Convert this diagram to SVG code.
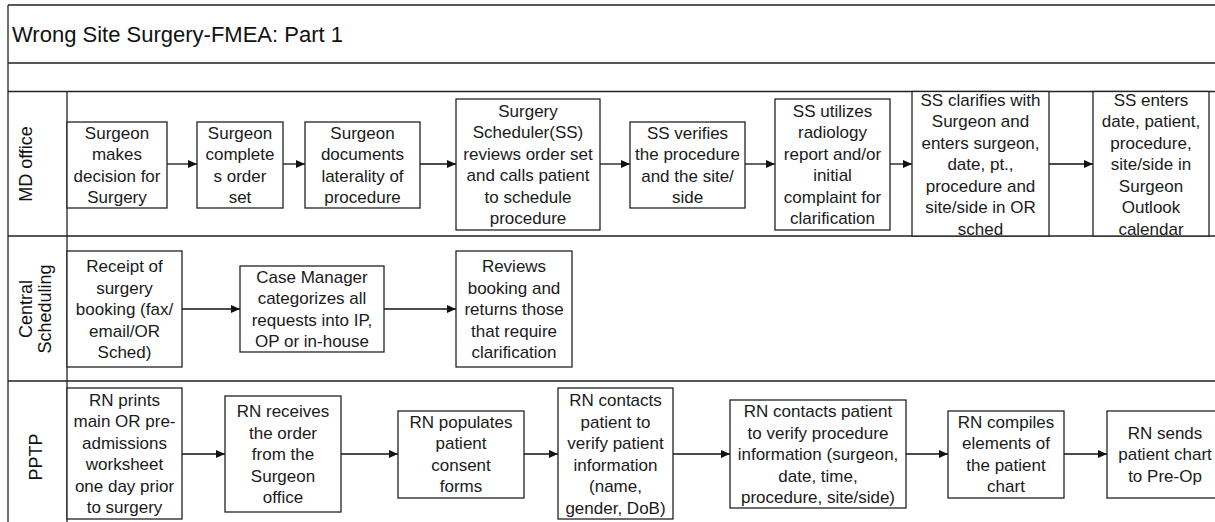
<svg xmlns="http://www.w3.org/2000/svg" width="1215" height="522" viewBox="0 0 1215 522">
  <defs>
    <marker id="ah" markerUnits="userSpaceOnUse" markerWidth="9" markerHeight="8" refX="9" refY="4" orient="auto">
      <path d="M0,0 L9,4 L0,8 z" fill="#111"/>
    </marker>
    <style>
      .frame { stroke: #222; stroke-width: 1.3; fill: none; }
      .box { fill: #fff; stroke: #222; stroke-width: 1.3; }
      .t { font-family: "Liberation Sans", Arial, sans-serif; font-size: 17px; fill: #1a1a1a; text-anchor: middle; }
      .lane { font-family: "Liberation Sans", Arial, sans-serif; font-size: 18px; fill: #111; text-anchor: middle; }
      .title { font-family: "Liberation Sans", Arial, sans-serif; font-size: 22px; fill: #111; }
      .conn { stroke: #111; stroke-width: 1.3; fill: none; marker-end: url(#ah); }
    </style>
  </defs>
  <rect width="1215" height="522" fill="#fff"/>

  <!-- table frame and swimlanes -->
  <g id="frame">
    <path class="frame" d="M8,5 H1215 M8,5 V522 M8,63 H1215 M8,91.5 H1215 M8,236 H1215 M8,381 H1215 M67,91.5 V522"/>
    <text class="title" x="12" y="42">Wrong Site Surgery-FMEA: Part 1</text>
  </g>

  <g id="lane-md"><text class="lane" transform="translate(32,164) rotate(-90)">MD office</text></g>
  <g id="lane-central"><text class="lane" transform="translate(32,309) rotate(-90)"><tspan x="0" dy="0">Central</tspan><tspan x="0" dy="19">Scheduling</tspan></text></g>
  <g id="lane-pptp"><text class="lane" transform="translate(42,457) rotate(-90)">PPTP</text></g>

  <!-- connectors -->
  <g id="connectors">
    <path class="conn" d="M167,164 H197"/>
    <path class="conn" d="M283,164 H305"/>
    <path class="conn" d="M420,164 H456"/>
    <path class="conn" d="M600,164 H630"/>
    <path class="conn" d="M745,164 H775"/>
    <path class="conn" d="M890,164 H912"/>
    <path class="conn" d="M1049,164 H1093"/>
    <path class="conn" d="M182,309 H240"/>
    <path class="conn" d="M384,309 H456"/>
    <path class="conn" d="M182,454 H225"/>
    <path class="conn" d="M341,454 H398"/>
    <path class="conn" d="M524,454 H558"/>
    <path class="conn" d="M673,454 H730"/>
    <path class="conn" d="M906,454 H948"/>
    <path class="conn" d="M1064,454 H1107"/>
  </g>

  <!-- MD office lane -->
  <g id="md1"><rect class="box" x="67" y="122" width="100" height="86"/>
    <text class="t" y="138.5"><tspan x="117">Surgeon</tspan><tspan x="117" dy="21.5">makes</tspan><tspan x="117" dy="21.5">decision for</tspan><tspan x="117" dy="21.5">Surgery</tspan></text></g>
  <g id="md2"><rect class="box" x="197" y="122" width="86" height="86"/>
    <text class="t" y="138.5"><tspan x="240">Surgeon</tspan><tspan x="240" dy="21.5">complete</tspan><tspan x="240" dy="21.5">s order</tspan><tspan x="240" dy="21.5">set</tspan></text></g>
  <g id="md3"><rect class="box" x="305" y="122" width="115" height="86"/>
    <text class="t" y="138.5"><tspan x="362.5">Surgeon</tspan><tspan x="362.5" dy="21.5">documents</tspan><tspan x="362.5" dy="21.5">laterality of</tspan><tspan x="362.5" dy="21.5">procedure</tspan></text></g>
  <g id="md4"><rect class="box" x="456" y="99" width="144" height="131"/>
    <text class="t" y="116.5"><tspan x="528">Surgery</tspan><tspan x="528" dy="21.5">Scheduler(SS)</tspan><tspan x="528" dy="21.5">reviews order set</tspan><tspan x="528" dy="21.5">and calls patient</tspan><tspan x="528" dy="21.5">to schedule</tspan><tspan x="528" dy="21.5">procedure</tspan></text></g>
  <g id="md5"><rect class="box" x="630" y="122" width="115" height="86"/>
    <text class="t" y="138.5"><tspan x="687.5">SS verifies</tspan><tspan x="687.5" dy="21.5">the procedure</tspan><tspan x="687.5" dy="21.5">and the site/</tspan><tspan x="687.5" dy="21.5">side</tspan></text></g>
  <g id="md6"><rect class="box" x="775" y="99" width="115" height="131"/>
    <text class="t" y="116.5"><tspan x="832.5">SS utilizes</tspan><tspan x="832.5" dy="21.5">radiology</tspan><tspan x="832.5" dy="21.5">report and/or</tspan><tspan x="832.5" dy="21.5">initial</tspan><tspan x="832.5" dy="21.5">complaint for</tspan><tspan x="832.5" dy="21.5">clarification</tspan></text></g>
  <g id="md7"><rect class="box" x="912" y="91.5" width="137" height="144.5"/>
    <text class="t" y="105.5"><tspan x="980.5">SS clarifies with</tspan><tspan x="980.5" dy="21.5">Surgeon and</tspan><tspan x="980.5" dy="21.5">enters surgeon,</tspan><tspan x="980.5" dy="21.5">date, pt.,</tspan><tspan x="980.5" dy="21.5">procedure and</tspan><tspan x="980.5" dy="21.5">site/side in OR</tspan><tspan x="980.5" dy="21.5">sched</tspan></text></g>
  <g id="md8"><rect class="box" x="1093" y="91.5" width="116" height="144.5"/>
    <text class="t" y="105.5"><tspan x="1151">SS enters</tspan><tspan x="1151" dy="21.5">date, patient,</tspan><tspan x="1151" dy="21.5">procedure,</tspan><tspan x="1151" dy="21.5">site/side in</tspan><tspan x="1151" dy="21.5">Surgeon</tspan><tspan x="1151" dy="21.5">Outlook</tspan><tspan x="1151" dy="21.5">calendar</tspan></text></g>

  <!-- Central Scheduling lane -->
  <g id="cs1"><rect class="box" x="67" y="251" width="115" height="116"/>
    <text class="t" y="272"><tspan x="124.5">Receipt of</tspan><tspan x="124.5" dy="21.5">surgery</tspan><tspan x="124.5" dy="21.5">booking (fax/</tspan><tspan x="124.5" dy="21.5">email/OR</tspan><tspan x="124.5" dy="21.5">Sched)</tspan></text></g>
  <g id="cs2"><rect class="box" x="240" y="266" width="144" height="86"/>
    <text class="t" y="282.75"><tspan x="312">Case Manager</tspan><tspan x="312" dy="21.5">categorizes all</tspan><tspan x="312" dy="21.5">requests into IP,</tspan><tspan x="312" dy="21.5">OP or in-house</tspan></text></g>
  <g id="cs3"><rect class="box" x="456" y="251" width="116" height="116"/>
    <text class="t" y="272"><tspan x="514">Reviews</tspan><tspan x="514" dy="21.5">booking and</tspan><tspan x="514" dy="21.5">returns those</tspan><tspan x="514" dy="21.5">that require</tspan><tspan x="514" dy="21.5">clarification</tspan></text></g>

  <!-- PPTP lane -->
  <g id="p1"><rect class="box" x="67" y="388" width="115" height="131"/>
    <text class="t" y="405.75"><tspan x="124.5">RN prints</tspan><tspan x="124.5" dy="21.5">main OR pre-</tspan><tspan x="124.5" dy="21.5">admissions</tspan><tspan x="124.5" dy="21.5">worksheet</tspan><tspan x="124.5" dy="21.5">one day prior</tspan><tspan x="124.5" dy="21.5">to surgery</tspan></text></g>
  <g id="p2"><rect class="box" x="225" y="396" width="116" height="116"/>
    <text class="t" y="417"><tspan x="283">RN receives</tspan><tspan x="283" dy="21.5">the order</tspan><tspan x="283" dy="21.5">from the</tspan><tspan x="283" dy="21.5">Surgeon</tspan><tspan x="283" dy="21.5">office</tspan></text></g>
  <g id="p3"><rect class="box" x="398" y="411" width="126" height="87"/>
    <text class="t" y="427.75"><tspan x="461">RN populates</tspan><tspan x="461" dy="21.5">patient</tspan><tspan x="461" dy="21.5">consent</tspan><tspan x="461" dy="21.5">forms</tspan></text></g>
  <g id="p4"><rect class="box" x="558" y="388" width="115" height="131"/>
    <text class="t" y="406"><tspan x="615.5">RN contacts</tspan><tspan x="615.5" dy="21.5">patient to</tspan><tspan x="615.5" dy="21.5">verify patient</tspan><tspan x="615.5" dy="21.5">information</tspan><tspan x="615.5" dy="21.5">(name,</tspan><tspan x="615.5" dy="21.5">gender, DoB)</tspan></text></g>
  <g id="p5"><rect class="box" x="730" y="400" width="176" height="108"/>
    <text class="t" y="417"><tspan x="818">RN contacts patient</tspan><tspan x="818" dy="21.5">to verify procedure</tspan><tspan x="818" dy="21.5">information (surgeon,</tspan><tspan x="818" dy="21.5">date, time,</tspan><tspan x="818" dy="21.5">procedure, site/side)</tspan></text></g>
  <g id="p6"><rect class="box" x="948" y="411" width="116" height="87"/>
    <text class="t" y="427.75"><tspan x="1006">RN compiles</tspan><tspan x="1006" dy="21.5">elements of</tspan><tspan x="1006" dy="21.5">the patient</tspan><tspan x="1006" dy="21.5">chart</tspan></text></g>
  <g id="p7"><rect class="box" x="1107" y="411" width="116" height="87"/>
    <text class="t" y="438.5"><tspan x="1165">RN sends</tspan><tspan x="1165" dy="21.5">patient chart</tspan><tspan x="1165" dy="21.5">to Pre-Op</tspan></text></g>
</svg>
